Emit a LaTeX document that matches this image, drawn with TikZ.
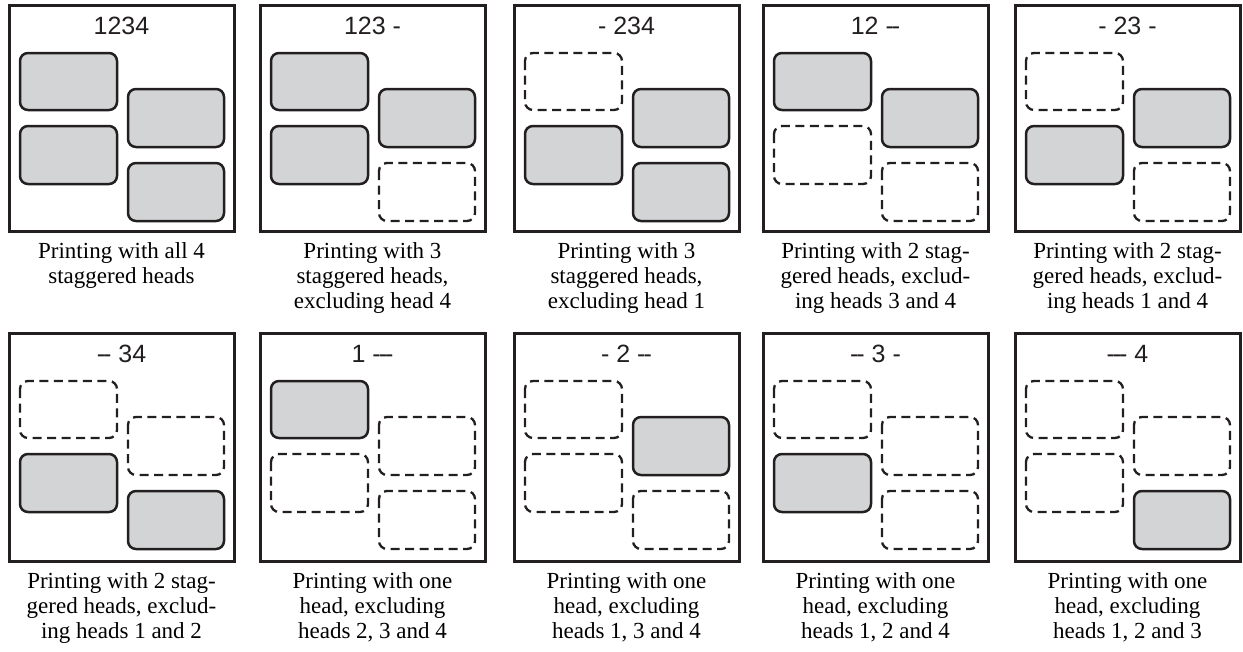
\documentclass[tikz,border=0pt]{standalone}
\usepackage{fontspec}
\setmainfont{Liberation Serif}
\newfontfamily\hdfont{Liberation Sans}
\definecolor{ink}{HTML}{231F20}
\definecolor{headgray}{HTML}{D3D4D6}
\tikzset{
  frame/.style={draw=ink, line width=3pt},
  headon/.style={draw=ink, fill=headgray, line width=2.5pt, rounded corners=8pt},
  headoff/.style={draw=ink, line width=2.3pt, dash pattern=on 9pt off 5.5pt, rounded corners=8pt},
  paneltitle/.style={font=\hdfont\fontsize{25}{30}\selectfont, anchor=base, inner sep=0pt, text=ink},
  caption/.style={font=\fontsize{23}{25}\selectfont, align=center, anchor=north, inner sep=0pt, text=black},
}
\newcommand\hk{\kern-0.08em}
\begin{document}
\begin{tikzpicture}[x=1pt,y=-1pt]
\useasboundingbox (0,0) rectangle (1243,651);
\foreach \n/\L/\T/\B/\ttl/\sa/\sb/\sc/\sd/\cap in {
  1/8/4/233/{1234}/headon/headon/headon/headon/{Printing with all 4\\staggered heads},
  2/259/4/233/{123 -}/headon/headon/headon/headoff/{Printing with 3\\staggered heads,\\excluding head 4},
  3/513/4/233/{- 234}/headoff/headon/headon/headon/{Printing with 3\\staggered heads,\\excluding head 1},
  4/762/4/233/{12 -\hk-}/headon/headoff/headon/headoff/{Printing with 2 stag-\\gered heads, exclud-\\ing heads 3 and 4},
  5/1014/4/233/{- 23 -}/headoff/headon/headon/headoff/{Printing with 2 stag-\\gered heads, exclud-\\ing heads 1 and 4},
  6/8/332/563/{-\hk- 34}/headoff/headon/headoff/headon/{Printing with 2 stag-\\gered heads, exclud-\\ing heads 1 and 2},
  7/259/332/563/{1 -\hk-\hk-}/headon/headoff/headoff/headoff/{Printing with one\\head, excluding\\heads 2, 3 and 4},
  8/513/332/563/{- 2 -\hk-}/headoff/headoff/headon/headoff/{Printing with one\\head, excluding\\heads 1, 3 and 4},
  9/762/332/563/{-\hk- 3 -}/headoff/headon/headoff/headoff/{Printing with one\\head, excluding\\heads 1, 2 and 4},
  10/1014/332/563/{-\hk-\hk- 4}/headoff/headoff/headoff/headon/{Printing with one\\head, excluding\\heads 1, 2 and 3}}
{
  % panel frame
  \draw[frame] (\L+1.5,\T+1.5) rectangle (\L+226.5,\B-1.5);
  % heads: A = head 1, B = head 3, C = head 2, D = head 4
  \draw[\sa] (\L+12,\T+49)  rectangle (\L+109,\T+106);
  \draw[\sb] (\L+12,\T+122) rectangle (\L+109,\T+180);
  \draw[\sc] (\L+120,\T+85) rectangle (\L+216,\T+143);
  \draw[\sd] (\L+120,\T+159) rectangle (\L+216,\T+217);
  % title and caption
  \node[paneltitle] (title\n) at (\L+113.5,\T+30) {\ttl};
  \node[caption] (caption\n) at (\L+113.5,\B+9.5) {\cap};
}
\end{tikzpicture}
\end{document}
